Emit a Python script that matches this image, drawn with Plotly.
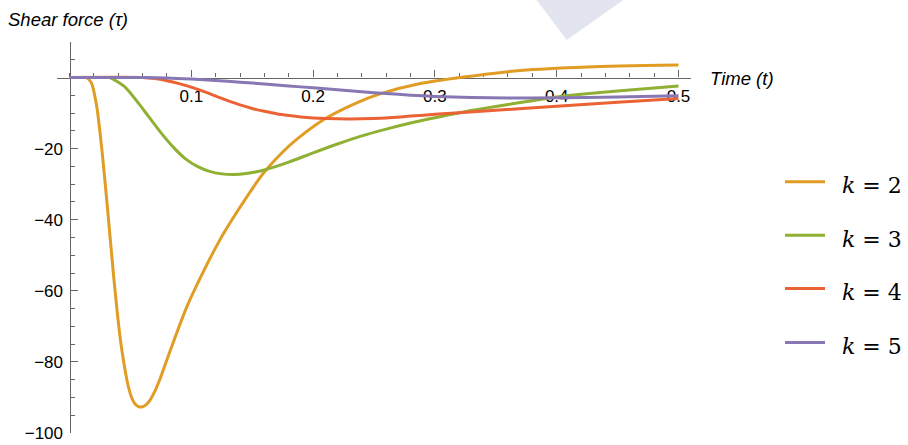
import plotly.graph_objects as go

# Shear force tau(t) for several values of k
t_k2 = [0, 0.010, 0.0141, 0.018, 0.0223, 0.0265, 0.031, 0.036, 0.0415, 0.045, 0.048,
        0.051, 0.054, 0.057, 0.060, 0.063, 0.066, 0.070, 0.0743, 0.0825, 0.0962,
        0.1099, 0.1236, 0.1373, 0.159, 0.1755, 0.1865, 0.2098, 0.2358, 0.255, 0.288,
        0.3206, 0.37, 0.425, 0.5]
tau_k2 = [0, 0, 0, -1.5, -8, -20, -36, -55, -73, -81, -86.5,
          -90, -91.9, -92.6, -92.6, -92.0, -90.8, -88.3, -84.8, -77.0, -64.6,
          -54.6, -45.6, -37.9, -27.0, -20.8, -17.4, -11.6, -7.1, -4.6, -1.7,
          0, 2.0, 3.0, 3.5]

t_k3 = [0, 0.03, 0.033, 0.045, 0.055, 0.065, 0.075, 0.085, 0.095, 0.105, 0.115,
        0.125, 0.135, 0.145, 0.16, 0.18, 0.20, 0.22, 0.24, 0.26, 0.28,
        0.30, 0.32, 0.34, 0.36, 0.38, 0.40, 0.42, 0.45, 0.5]
tau_k3 = [0, 0, 0, -2.5, -6.5, -11, -15.5, -19.5, -22.8, -25.0, -26.4,
          -27.1, -27.3, -27.0, -26.0, -23.8, -21.2, -18.7, -16.4, -14.5, -12.8,
          -11.3, -9.9, -8.7, -7.6, -6.5, -5.5, -4.7, -3.8, -2.4]

t_k4 = [0, 0.06, 0.07, 0.08, 0.09, 0.10, 0.11, 0.12, 0.13, 0.14, 0.15,
        0.16, 0.17, 0.18, 0.19, 0.20, 0.22, 0.24, 0.26, 0.28, 0.30,
        0.35, 0.40, 0.45, 0.5]
tau_k4 = [0, 0, -0.3, -0.9, -1.7, -2.7, -3.9, -5.2, -6.5, -7.7, -8.7,
          -9.5, -10.2, -10.7, -11.1, -11.35, -11.6, -11.6, -11.35, -10.85, -10.35,
          -9.2, -8.05, -6.95, -5.9]

t_k5 = [0, 0.06, 0.08, 0.10, 0.12, 0.14, 0.16, 0.18, 0.20, 0.22, 0.24,
        0.26, 0.28, 0.30, 0.33, 0.36, 0.40, 0.45, 0.5]
tau_k5 = [0, 0, -0.1, -0.4, -0.8, -1.3, -1.8, -2.35, -2.9, -3.45, -4.0,
          -4.5, -4.95, -5.3, -5.6, -5.75, -5.7, -5.45, -5.1]

k_labels = ["2", "3", "4", "5"]
colors = ["#E19C24", "#8FB032", "#EB6235", "#8778B3"]

x_ticks = [0.1, 0.2, 0.3, 0.4, 0.5]
x_ticktext = ["0.1", "0.2", "0.3", "0.4", "0.5"]
y_ticks = [-20, -40, -60, -80, -100]
y_ticktext = ["\u221220", "\u221240", "\u221260", "\u221280", "\u2212100"]

W, H = 908, 445
L, R, T, B = 57, 217, 42, 12
x_range = [(57 - 69.5) / 1218, (691 - 69.5) / 1218]
y_range = [-100, 10]

pw, ph = W - L - R, H - T - B


def px(x):
    return (x - L) / pw


def py(y):
    return (H - B - y) / ph


series = [(t_k2, tau_k2), (t_k3, tau_k3), (t_k4, tau_k4), (t_k5, tau_k5)]

fig = go.Figure()
for (tt, vv), lab, col in zip(series, k_labels, colors):
    fig.add_trace(go.Scatter(
        x=tt, y=vv, mode="lines", name="k = " + lab,
        line=dict(color=col, width=3, shape="spline", smoothing=0.7),
        showlegend=False,
    ))

axis_col = "#666666"
sans = "Liberation Sans, Arial, sans-serif"

fig.update_layout(
    width=W, height=H,
    margin=dict(l=L, r=R, t=T, b=B, autoexpand=False),
    paper_bgcolor="white", plot_bgcolor="white",
    font=dict(family=sans, size=17, color="black"),
    xaxis=dict(
        range=x_range, showgrid=False, zeroline=False, automargin=False,
        showline=True, linecolor=axis_col, linewidth=1.2,
        anchor="free", position=(0 - y_range[0]) / (y_range[1] - y_range[0]),
        tickmode="array", tickvals=x_ticks, ticktext=x_ticktext,
        ticks="inside", ticklen=7, tickwidth=1, tickcolor=axis_col,
        ticklabelstandoff=3,
        minor=dict(tickmode="linear", tick0=0, dtick=0.02, ticks="inside",
                   ticklen=4, tickwidth=1, tickcolor=axis_col),
        tickfont=dict(family=sans, size=17, color="black"),
        layer="below traces",
    ),
    yaxis=dict(
        range=y_range, showgrid=False, zeroline=False, automargin=False,
        showline=True, linecolor=axis_col, linewidth=1.2,
        anchor="free", position=(0 - x_range[0]) / (x_range[1] - x_range[0]),
        tickmode="array", tickvals=y_ticks, ticktext=y_ticktext,
        ticks="inside", ticklen=7, tickwidth=1, tickcolor=axis_col,
        ticklabelstandoff=3,
        minor=dict(tickmode="linear", tick0=0, dtick=5, ticks="inside",
                   ticklen=4, tickwidth=1, tickcolor=axis_col),
        tickfont=dict(family=sans, size=17, color="black"),
        layer="below traces",
    ),
)

# faint watermark in the background
fig.add_shape(
    type="path", xref="paper", yref="paper", layer="below",
    path=f"M {px(536.7)} {py(0)} L {px(566.7)} {py(40)} L {px(623.3)} {py(0)} Z",
    fillcolor="#e2e5ef", line=dict(width=0),
)

# axis titles
fig.add_annotation(
    text="<i>Shear force (\u03c4)</i>", xref="paper", yref="paper",
    x=px(6), y=py(19.5), xanchor="left", yanchor="middle", showarrow=False,
    font=dict(family=sans, size=18.5, color="black"),
)
fig.add_annotation(
    text="<i>Time (t)</i>", xref="paper", yref="paper",
    x=px(708), y=py(78), xanchor="left", yanchor="middle", showarrow=False,
    font=dict(family=sans, size=18.5, color="black"),
)

# legend drawn at the right
legend_rows = [181.7, 235.2, 288.6, 342.4]
for ypx, lab, col in zip(legend_rows, k_labels, colors):
    fig.add_shape(
        type="line", xref="paper", yref="paper",
        x0=px(785), x1=px(825), y0=py(ypx), y1=py(ypx),
        line=dict(color=col, width=3),
    )
    fig.add_annotation(
        text="<i>k</i> = " + lab, xref="paper", yref="paper",
        x=px(840), y=py(ypx + 4), xanchor="left", yanchor="middle", showarrow=False,
        font=dict(family="DejaVu Serif, serif", size=22, color="black"),
    )

fig.write_html("out.html")
